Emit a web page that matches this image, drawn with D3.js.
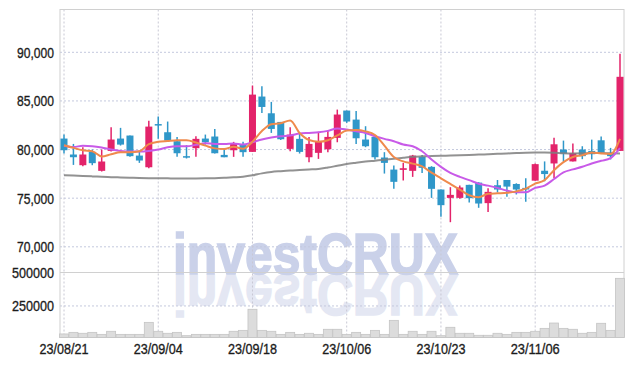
<!DOCTYPE html>
<html>
<head>
<meta charset="utf-8">
<script src="https://cdn.jsdelivr.net/npm/d3@7"></script>
<style>
  html, body { margin: 0; padding: 0; background: #ffffff; }
  svg { display: block; }
</style>
</head>
<body>
<svg id="chart" width="634" height="366"></svg>
<script>
// trading days shown on the chart
const dates = ['23/08/21','23/08/22','23/08/23','23/08/24','23/08/25','23/08/28','23/08/29','23/08/30','23/08/31','23/09/01',
  '23/09/04','23/09/05','23/09/06','23/09/07','23/09/08','23/09/11','23/09/12','23/09/13','23/09/14','23/09/15',
  '23/09/18','23/09/19','23/09/20','23/09/21','23/09/22','23/09/25','23/09/26','23/09/27','23/10/04','23/10/05',
  '23/10/06','23/10/10','23/10/11','23/10/12','23/10/13','23/10/16','23/10/17','23/10/18','23/10/19','23/10/20',
  '23/10/23','23/10/24','23/10/25','23/10/26','23/10/27','23/10/30','23/10/31','23/11/01','23/11/02','23/11/03',
  '23/11/06','23/11/07','23/11/08','23/11/09','23/11/10','23/11/13','23/11/14','23/11/15','23/11/16','23/11/17'];

const open  = [81130,79490,78390,79760,77810,79860,81130,81440,79380,78180,
  82620,81780,80860,79320,80140,81130,81340,79450,79930,80510,
  79760,85450,83730,82840,80070,81100,79210,79660,80030,81200,
  84010,83080,81030,81300,79180,77940,77910,77810,79250,78220,
  75890,75030,75030,76370,76600,74490,76330,76870,76460,76060,
  76800,77820,78570,80000,78780,80000,79860,80950,79660,79860];
const high  = [81540,80580,80240,80000,80000,82290,82230,81440,79830,82950,
  83390,82880,81300,80450,81370,81540,82120,80100,80790,80790,
  86580,86510,84900,82840,82290,81710,81300,81820,81990,84110,
  84010,83970,82400,81370,79730,78360,78630,79450,79450,78290,
  75890,76130,76300,76370,76640,76020,76870,76870,76530,77040,
  78570,78780,81220,80920,80610,80340,81020,81330,80170,89860];
const low   = [79590,78420,78290,78390,77740,79800,80410,79250,78630,78080,
  81100,80790,79250,79080,79250,80510,79590,79210,79250,79250,
  79760,83770,81710,80990,79830,79590,78700,79040,79730,80750,
  82740,80580,80240,78970,77530,75960,76820,77190,77600,75030,
  73080,72530,74930,74550,74010,73570,75580,75140,75380,74630,
  76800,76740,77080,78780,78780,79010,78980,79690,78980,79860];
const close = [79930,79210,79490,78600,78770,81030,80510,79320,78870,82360,
  82500,80920,79620,79210,81100,80750,79620,79210,80580,79730,
  85650,84380,82120,81060,81540,79760,80580,80820,81300,83600,
  82880,81160,80340,79210,78630,76680,78080,79380,78120,75960,
  74280,75340,76100,75000,74450,75650,75890,76190,75890,75890,
  78500,77480,80540,79590,79630,79320,79520,79690,79320,87480];
const volume = [40000,52000,45000,52000,37000,60000,37000,37000,37000,127000,
  60000,45000,52000,27000,37000,37000,37000,37000,60000,67000,
  225000,67000,60000,37000,52000,37000,45000,37000,75000,75000,
  37000,52000,37000,67000,37000,142000,37000,60000,37000,60000,
  27000,90000,45000,45000,30000,30000,45000,37000,52000,52000,
  60000,82000,122000,82000,75000,45000,52000,120000,67000,457000];

// moving averages
const ma5  = [80450,80170,79930,79830,79280,79520,79730,79730,79830,80550,
  80800,80880,80950,80960,80720,80400,80120,80050,80300,80080,
  80800,81900,82600,82700,83000,81700,80980,80800,80950,81450,
  81950,82000,81870,81500,80400,79230,78780,78550,78270,77620,
  77040,76460,75880,75300,75100,75450,75500,75550,75700,75980,
  76500,76850,77880,78700,79230,79420,79700,79600,79540,81100];
const ma20 = [80400,80260,80390,80340,80200,80000,79860,79790,79790,79860,
  80000,80240,80340,80340,80480,80650,80580,80580,80620,80510,
  80750,81030,81230,81370,81440,81640,81710,81780,81920,82160,
  82050,81880,81710,81370,81100,80860,80510,80340,79830,78970,
  78220,77600,77190,76850,76490,76290,76060,75780,75610,75610,
  76060,76290,76970,77650,77960,78230,78570,78840,79120,80140];
const ma60 = [77360,77320,77280,77240,77200,77160,77130,77100,77080,77060,
  77050,77040,77030,77030,77030,77040,77060,77100,77150,77210,
  77350,77550,77700,77780,77850,77900,77950,78000,78150,78330,
  78510,78640,78760,78860,78960,79050,79160,79260,79300,79330,
  79360,79390,79420,79450,79480,79520,79560,79600,79640,79680,
  79700,79690,79660,79620,79600,79610,79640,79640,79620,79600];

const priceTicks = [70000, 75000, 80000, 85000, 90000];
const volumeTicks = [250000, 500000];
const dateTicks = ['23/08/21','23/09/04','23/09/18','23/10/06','23/10/23','23/11/06'];

const svg = d3.select('#chart');
const plotLeft = 60, plotRight = 624, plotTop = 9.5, plotSplit = 272.5, plotBottom = 337.5;
const upColor = '#e3236a', downColor = '#2f97c9';
const labelFont = '"Liberation Sans", Arial, sans-serif';

const x = d3.scalePoint().domain(dates).range([64, 620]);
const y = d3.scaleLinear().domain([70000, 90000]).range([246.8, 52.3]);
const yv = d3.scaleLinear().domain([0, 500000]).range([339.3, 272.6]);

// watermark, and its mirror image drawn from the same text
const wm = svg.append('g');
const mirror = wm.append('use');
wm.append('text')
    .attr('id', 'wmText')
    .attr('x', 173).attr('y', 274)
    .attr('textLength', 285).attr('lengthAdjust', 'spacingAndGlyphs')
    .style('font-family', '"Liberation Sans", Arial, sans-serif')
    .style('font-weight', 'bold').style('font-size', '57px')
    .style('fill', '#cad1e9').style('stroke', '#cad1e9').style('stroke-width', 1.6)
    .text('investCRUX');
mirror.attr('href', '#wmText')
    .attr('transform', 'translate(0,549) scale(1,-1)')
    .attr('opacity', 0.5);

// grid lines
const grid = svg.append('g');
grid.selectAll('.hgrid').data(priceTicks).enter().append('line')
    .attr('x1', plotLeft).attr('x2', plotRight)
    .attr('y1', d => y(d)).attr('y2', d => y(d))
    .attr('stroke', '#c4c9de').attr('stroke-dasharray', '2,2');
grid.selectAll('.vgrid').data([250000]).enter().append('line')
    .attr('x1', plotLeft).attr('x2', plotRight)
    .attr('y1', d => yv(d)).attr('y2', d => yv(d))
    .attr('stroke', '#c4c9de').attr('stroke-dasharray', '2,2');
grid.selectAll('.xgrid').data(dateTicks).enter().append('line')
    .attr('x1', d => x(d)).attr('x2', d => x(d))
    .attr('y1', plotTop).attr('y2', plotBottom)
    .attr('stroke', '#c8c8d4').attr('stroke-dasharray', '2,2');

// frame
svg.append('rect')
    .attr('x', plotLeft).attr('y', plotTop)
    .attr('width', plotRight - plotLeft).attr('height', plotBottom - plotTop)
    .attr('fill', 'none').attr('stroke', '#d0d0d0');
svg.append('line')
    .attr('x1', plotLeft).attr('x2', plotRight)
    .attr('y1', plotSplit).attr('y2', plotSplit)
    .attr('stroke', '#d0d0d0');

// volume bars
svg.selectAll('.vol').data(dates).enter().append('rect')
    .attr('x', d => x(d) - 4.5)
    .attr('width', 9)
    .attr('y', (d, i) => yv(volume[i]))
    .attr('height', (d, i) => plotBottom - yv(volume[i]))
    .attr('fill', '#dcdcdc').attr('stroke', '#c4c4c4').attr('stroke-width', 0.8);

// candles
const candles = svg.selectAll('.candle').data(dates).enter().append('g');
candles.append('line')
    .attr('x1', d => x(d)).attr('x2', d => x(d))
    .attr('y1', (d, i) => y(high[i])).attr('y2', (d, i) => y(low[i]))
    .attr('stroke', (d, i) => close[i] >= open[i] ? upColor : downColor)
    .attr('stroke-width', 1.5);
candles.append('rect')
    .attr('x', d => x(d) - 3.5)
    .attr('width', 7)
    .attr('y', (d, i) => y(Math.max(open[i], close[i])))
    .attr('height', (d, i) => Math.max(1.5, Math.abs(y(open[i]) - y(close[i]))))
    .attr('fill', (d, i) => close[i] >= open[i] ? upColor : downColor);

// moving averages
const line = d3.line()
    .x((d, i) => x(dates[i]))
    .y(d => y(d))
    .curve(d3.curveMonotoneX);

svg.append('path').datum(ma60).attr('d', line)
    .attr('fill', 'none').attr('stroke', '#7f7f7f').attr('stroke-width', 2).attr('opacity', 0.85);
svg.append('path').datum(ma20).attr('d', line)
    .attr('fill', 'none').attr('stroke', '#c85ae8').attr('stroke-width', 2);
svg.append('path').datum(ma5).attr('d', line)
    .attr('fill', 'none').attr('stroke', '#ef8a4c').attr('stroke-width', 2);

// axis labels (narrow, slightly heavy)
function label(sel, width) {
    sel.attr('textLength', width).attr('lengthAdjust', 'spacingAndGlyphs')
        .style('font-family', labelFont).style('font-size', '15px')
        .style('fill', '#1c1c1c').style('stroke', '#1c1c1c').style('stroke-width', 0.35);
}
svg.selectAll('.plabel').data(priceTicks).enter().append('text')
    .attr('x', 54).attr('y', d => y(d) + 5.5)
    .attr('text-anchor', 'end')
    .call(label, 37)
    .text(d => d3.format(',')(d));
svg.selectAll('.vlabel').data(volumeTicks).enter().append('text')
    .attr('x', 54).attr('y', d => yv(d) + 5.5)
    .attr('text-anchor', 'end')
    .call(label, 42)
    .text(d => d);
svg.selectAll('.dlabel').data(dateTicks).enter().append('text')
    .attr('x', d => x(d)).attr('y', 353.5)
    .attr('text-anchor', 'middle')
    .call(label, 49)
    .text(d => d);
</script>
</body>
</html>
